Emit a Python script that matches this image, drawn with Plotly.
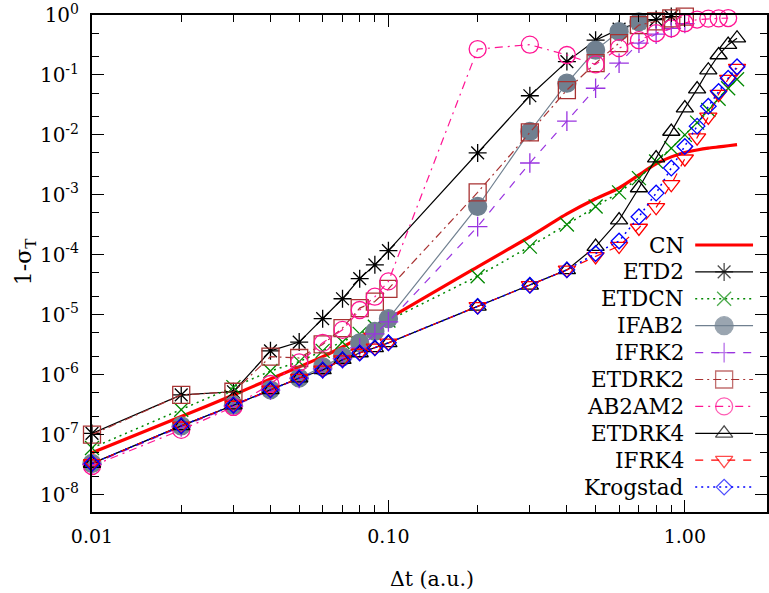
import plotly.graph_objects as go

# ---- data: time step vs. 1 - sigma_T for each propagator ----
dt = [0.01, 0.02, 0.03, 0.04, 0.05, 0.06, 0.07, 0.08, 0.09, 0.1,
      0.2, 0.3, 0.4, 0.5, 0.6, 0.7, 0.8, 0.9, 1.0, 1.1, 1.2, 1.3, 1.4, 1.5]

cn = [5e-8, 2e-7, 4.6e-7, 8.5e-7, 1.35e-6, 2.0e-6, 2.9e-6, 4.2e-6, 6.0e-6, 8.5e-6,
      6.3e-5, 2.0e-4, 4.8e-4, 8.6e-4, 1.3e-3, 2.15e-3, 3.3e-3, 4.3e-3, 5.1e-3, 5.6e-3,
      6.0e-3, 6.3e-3, 6.6e-3, 6.9e-3]
etd2 = [1.05e-7, 4.6e-7, 5.2e-7, 2.5e-6, 3.5e-6, 8.6e-6, 1.85e-5, 4.0e-5, 6.8e-5, 1.17e-4,
        5.0e-3, 0.045, 0.167, 0.38, 0.58, 0.74, 0.84, 0.94]
etdcn = [6e-8, 2.6e-7, 6.2e-7, 1.15e-6, 1.65e-6, 2.5e-6, 3.5e-6, 4.8e-6, 6.3e-6, 8.0e-6,
         4.4e-5, 1.37e-4, 3.2e-4, 6.4e-4, 1.1e-3, 1.9e-3, 3.6e-3, 6.0e-3, 1.0e-2, 1.6e-2,
         2.6e-2, 4.0e-2, 6.0e-2, 8.5e-2]
ifab2 = [3.3e-8, 1.4e-7, 3.1e-7, 5.6e-7, 8.8e-7, 1.35e-6, 2.0e-6, 3.4e-6, 5.3e-6, 8.6e-6,
         6.4e-4, 0.0114, 0.073, 0.26, 0.53, 0.77]
ifrk2 = [3.2e-8, 1.35e-7, 3.0e-7, 5.5e-7, 8.7e-7, 1.25e-6, 1.85e-6, 2.8e-6, 4.8e-6, 7.6e-6,
         2.95e-4, 3.4e-3, 0.017, 0.06, 0.157, 0.34, 0.48, 0.6, 0.72]
etdrk2 = [1.0e-7, 4.6e-7, 5.2e-7, 2.0e-6, 1.9e-6, 3.2e-6, 6.0e-6, 1.29e-5, 1.66e-5, 2.7e-5,
          1.1e-3, 0.011, 0.056, 0.157, 0.34, 0.68, 0.78, 0.88, 0.94]
ab2am2 = [3.0e-8, 1.2e-7, 2.9e-7, 7.0e-7, 1.6e-6, 3.4e-6, 5.6e-6, 1.2e-5, 2.0e-5, 3.6e-5,
          0.27, 0.32, 0.215, 0.15, 0.28, 0.38, 0.5, 0.6, 0.73, 0.84, 0.87, 0.88, 0.89]
etdrk4 = [3.3e-8, 1.4e-7, 3.1e-7, 5.6e-7, 8.8e-7, 1.2e-6, 1.78e-6, 2.3e-6, 2.8e-6, 3.4e-6,
          1.38e-5, 3.1e-5, 5.6e-5, 1.37e-4, 3.8e-4, 1.3e-3, 4.1e-3, 1.14e-2, 2.8e-2, 5.8e-2,
          0.12, 0.215, 0.32, 0.41]
ifrk4 = [3.3e-8, 1.4e-7, 3.1e-7, 5.6e-7, 8.8e-7, 1.2e-6, 1.78e-6, 2.3e-6, 2.8e-6, 3.4e-6,
         1.38e-5, 3.1e-5, 5.6e-5, 9.4e-5, 1.4e-4, 2.8e-4, 6.2e-4, 1.5e-3, 4.0e-3, 9.0e-3,
         2.0e-2, 4.8e-2, 8.5e-2, 0.13]
krogstad = [3.3e-8, 1.4e-7, 3.1e-7, 5.6e-7, 8.8e-7, 1.2e-6, 1.78e-6, 2.3e-6, 2.8e-6, 3.4e-6,
            1.38e-5, 3.1e-5, 5.6e-5, 1.05e-4, 1.7e-4, 4.3e-4, 1.07e-3, 2.8e-3, 6.4e-3, 1.4e-2,
            3.0e-2, 5.3e-2, 8.8e-2, 0.137]

names = ["CN", "ETD2", "ETDCN", "IFAB2", "IFRK2", "ETDRK2", "AB2AM2", "ETDRK4", "IFRK4", "Krogstad"]
values = [cn, etd2, etdcn, ifab2, ifrk2, etdrk2, ab2am2, etdrk4, ifrk4, krogstad]

# ---- styles (gnuplot-like) ----
styles = {
    "CN":       dict(color="#FF0000", width=3.2, dash="solid", symbol=None, size=0, fill=None),
    "ETD2":     dict(color="#000000", width=1.2, dash="solid", symbol="asterisk-open", size=15, fill=None),
    "ETDCN":    dict(color="#008800", width=1.5, dash="2px,4px", symbol="x-thin-open", size=14, fill=None),
    "IFAB2":    dict(color="#708090", width=1.2, dash="solid", symbol="circle", size=18, fill="#708090"),
    "IFRK2":    dict(color="#9933E0", width=1.2, dash="8px,8px", symbol="cross-thin-open", size=14, fill=None),
    "ETDRK2":   dict(color="#A83232", width=1.2, dash="8px,4px,2px,4px", symbol="square-open", size=17, fill=None),
    "AB2AM2":   dict(color="#FF1493", width=1.2, dash="8px,5px,2px,5px", symbol="circle-open", size=17, fill=None),
    "ETDRK4":   dict(color="#000000", width=1.2, dash="solid", symbol="triangle-up-open", size=15, fill=None),
    "IFRK4":    dict(color="#FF0000", width=1.2, dash="8px,8px", symbol="triangle-down-open", size=15, fill=None),
    "Krogstad": dict(color="#0000FF", width=1.5, dash="2px,4px", symbol="diamond-open", size=12, fill=None),
}

FONT = "DejaVu Serif"
W, H = 769, 593
ML, MR, MT, MB = 92, 0, 15, 81
PW, PH = W - ML - MR, H - MT - MB

fig = go.Figure()

for name, vals in zip(names, values):
    st = styles[name]
    xs = dt[:len(vals)]
    if st["symbol"] is None:
        fig.add_trace(go.Scatter(x=xs, y=vals, mode="lines", name=name, showlegend=False,
                                 line=dict(color=st["color"], width=st["width"], dash=st["dash"],
                                           shape="spline", smoothing=0.6)))
    else:
        fig.add_trace(go.Scatter(
            x=xs, y=vals, mode="lines+markers", name=name, showlegend=False, cliponaxis=False,
            line=dict(color=st["color"], width=st["width"], dash=st["dash"]),
            marker=dict(symbol=st["symbol"], size=st["size"],
                        color=st["fill"] if st["fill"] else st["color"],
                        line=dict(color=st["color"], width=1.3))))

# ---- key: label on the left, sample line with symbol on the right ----
def fx(px):
    return (px - ML) / PW

def fy(py):
    return (MT + PH - py) / PH

key_top, key_step = 245.0, 26.9
key_text_right, key_x0, key_x1 = 688, 697, 755
annotations = []
for i, name in enumerate(names):
    st = styles[name]
    yk = fy(key_top + i * key_step)
    xm = (fx(key_x0) + fx(key_x1)) / 2
    marker = dict(symbol=st["symbol"] or "circle", size=[0, st["size"], 0],
                  color=st["fill"] if st["fill"] else st["color"],
                  line=dict(color=st["color"], width=1.3))
    fig.add_trace(go.Scatter(
        x=[fx(key_x0), xm, fx(key_x1)], y=[yk, yk, yk], xaxis="x2", yaxis="y2",
        mode="lines+markers" if st["symbol"] else "lines", showlegend=False, cliponaxis=False,
        line=dict(color=st["color"], width=st["width"], dash=st["dash"]),
        marker=marker, hoverinfo="skip"))
    annotations.append(dict(text=name, x=fx(key_text_right), y=yk, xref="x2", yref="y2",
                            xanchor="right", yanchor="middle", showarrow=False,
                            font=dict(family=FONT, size=21.5, color="black")))

# axis titles
annotations.append(dict(text="Δt (a.u.)", x=(433 - ML) / PW, y=-(579 - MT - PH) / PH,
                        xref="paper", yref="paper", xanchor="center", yanchor="middle",
                        showarrow=False, font=dict(family=FONT, size=20.5, color="black")))
annotations.append(dict(text="1-σ<sub>T</sub>", x=(25 - ML) / PW, y=fy(262),
                        xref="paper", yref="paper", xanchor="center", yanchor="middle",
                        textangle=-90, showarrow=False,
                        font=dict(family=FONT, size=22, color="black")))

x_major = [0.01, 0.1, 1.0]
x_labels = ["0.01", "0.10", "1.00"]
x_minor = [m * 10.0 ** e for e in (-2, -1, 0) for m in range(2, 10)]
y_major = [10.0 ** e for e in range(-8, 1)]
y_labels = ["10<sup>%d</sup>" % e for e in range(-8, 1)]
y_minor = [m * 10.0 ** e for e in range(-9, 0) for m in (2, 5)]

axis_common = dict(type="log", showgrid=False, zeroline=False, showline=True, linewidth=2,
                   linecolor="black", mirror="ticks", ticks="inside", ticklen=12,
                   tickwidth=1.4, tickcolor="black", ticklabeloverflow="allow")

fig.update_layout(
    width=W, height=H, margin=dict(l=ML, r=MR, t=MT, b=MB),
    paper_bgcolor="white", plot_bgcolor="white", showlegend=False,
    font=dict(family=FONT, size=20, color="black"),
    xaxis=dict(**axis_common, range=[-2, -2 + PW / 297.3],
               tickfont=dict(family=FONT, size=19, color="black"),
               tickmode="array", tickvals=x_major, ticktext=x_labels, ticklabelstandoff=6,
               minor=dict(tickmode="array", tickvals=x_minor, ticks="inside", ticklen=7,
                          tickwidth=1.2, tickcolor="black", showgrid=False)),
    yaxis=dict(**axis_common, range=[-(512 - MT) / 59.95, 0],
               tickfont=dict(family=FONT, size=20, color="black"),
               tickmode="array", tickvals=y_major, ticktext=y_labels, ticklabelstandoff=7,
               minor=dict(tickmode="array", tickvals=y_minor, ticks="inside", ticklen=7,
                          tickwidth=1.2, tickcolor="black", showgrid=False)),
    xaxis2=dict(overlaying="x", anchor="y2", range=[0, 1], visible=False, fixedrange=True),
    yaxis2=dict(overlaying="y", anchor="x2", range=[0, 1], visible=False, fixedrange=True),
    annotations=annotations,
)

fig.write_html("out.html")
